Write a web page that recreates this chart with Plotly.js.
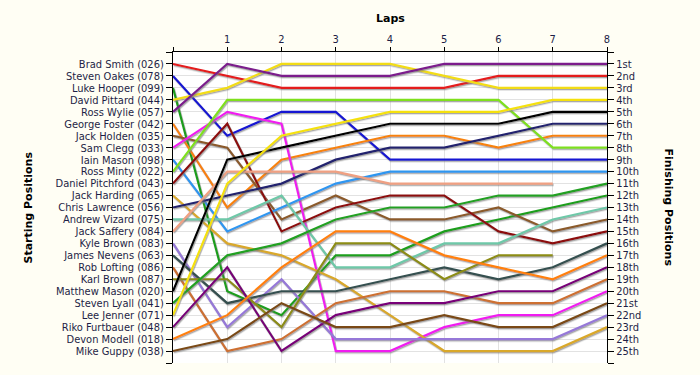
<!DOCTYPE html>
<html><head><meta charset="utf-8">
<script src="https://cdn.plot.ly/plotly-3.0.1.min.js"></script>
<style>html,body{margin:0;padding:0;background:#FFFEF4;} #chart{width:700px;height:375px;}</style>
</head><body><div id="chart"></div>
<script>
// ---- data ----
const laps = [0, 1, 2, 3, 4, 5, 6, 7, 8];
const lapLabels = ['', '1', '2', '3', '4', '5', '6', '7', '8'];
const drivers = ['Brad Smith (026)', 'Steven Oakes (078)', 'Luke Hooper (099)', 'David Pittard (044)',
  'Ross Wylie (057)', 'George Foster (042)', 'Jack Holden (035)', 'Sam Clegg (033)', 'Iain Mason (098)',
  'Ross Minty (022)', 'Daniel Pitchford (043)', 'Jack Harding (065)', 'Chris Lawrence (056)',
  'Andrew Vizard (075)', 'Jack Saffery (084)', 'Kyle Brown (083)', 'James Nevens (063)',
  'Rob Lofting (086)', 'Karl Brown (087)', 'Matthew Mason (020)', 'Steven Lyall (041)',
  'Lee Jenner (071)', 'Riko Furtbauer (048)', 'Devon Modell (018)', 'Mike Guppy (038)'];
const finishLabels = ['1st', '2nd', '3rd', '4th', '5th', '6th', '7th', '8th', '9th', '10th', '11th', '12th',
  '13th', '14th', '15th', '16th', '17th', '18th', '19th', '20th', '21st', '22nd', '23rd', '24th', '25th'];

// position of each driver after each lap (lap 0 = grid)
const bradSmith       = [1, 2, 3, 3, 3, 3, 2, 2, 2];
const stevenOakes     = [2, 7, 5, 5, 9, 9, 9, 9, 9];
const lukeHooper      = [3, 20, 22, 17, 17, 15, 14, 13, 12];
const davidPittard    = [4, 3, 1, 1, 1, 2, 3, 3, 3];
const rossWylie       = [5, 1, 2, 2, 2, 1, 1, 1, 1];
const georgeFoster    = [6, 13, 9, 8, 7, 7, 8, 7, 7];
const jackHolden      = [7, 8, 14, 12, 14, 14, 13, 15, 14];
const samClegg        = [8, 5, 6, 25, 25, 23, 22, 22, 20];
const iainMason       = [9, 15, 13, 11, 10, 10, 10, 10, 10];
const rossMinty       = [10, 4, 4, 4, 4, 4, 4, 8, 8];
const danielPitchford = [11, 6, 15, 13, 12, 12, 15, 16, 15];
const jackHarding     = [12, 16, 17, 19, 22, 25, 25, 25, 23];
const chrisLawrence   = [13, 12, 11, 9, 8, 8, 7, 6, 6];
const andrewVizard    = [14, 14, 12, 18, 18, 16, 16, 14, 13];
const jackSaffery     = [15, 10, 10, 10, 11, 11, 11, 11, null];
const kyleBrown       = [16, 23, 19, 24, 24, 24, 24, 24, 22];
const jamesNevens     = [17, 21, 20, 20, 19, 18, 19, 18, 16];
const robLofting      = [18, 25, 24, 21, 20, 20, 21, 21, 19];
const karlBrown       = [19, 19, 23, 16, 16, 19, 17, 17, null];
const matthewMason    = [20, 9, 8, 7, 6, 6, 6, 5, 5];
const stevenLyall     = [21, 17, 16, 14, 13, 13, 12, 12, 11];
const leeJenner       = [22, 11, 7, 6, 5, 5, 5, 4, 4];
const rikoFurtbauer   = [23, 18, 25, 22, 21, 21, 20, 20, 18];
const devonModell     = [24, 22, 18, 15, 15, 17, 18, 19, 17];
const mikeGuppy       = [25, 24, 21, 23, 23, 22, 23, 23, 21];

const positions = [bradSmith, stevenOakes, lukeHooper, davidPittard, rossWylie, georgeFoster, jackHolden,
  samClegg, iainMason, rossMinty, danielPitchford, jackHarding, chrisLawrence, andrewVizard, jackSaffery,
  kyleBrown, jamesNevens, robLofting, karlBrown, matthewMason, stevenLyall, leeJenner, rikoFurtbauer,
  devonModell, mikeGuppy];

const colors = ['#E41A1C', '#1414D2', '#1E9E1E', '#F2DC14', '#7B1F8C', '#F7820F', '#8B5A2B', '#F01EF0',
  '#2E96F0', '#7FE01E', '#8C1010', '#D9A82A', '#22226E', '#6EC8A8', '#F0A082', '#9678D8', '#345050',
  '#CD7030', '#8C8C14', '#000000', '#20A020', '#F5E10A', '#780078', '#FF8010', '#7A4A14'];

// ---- traces ----
const traces = positions.map((p, i) => ({
  type: 'scatter', mode: 'lines', x: laps, y: p, name: drivers[i],
  line: {color: colors[i], width: 2.2}, connectgaps: false, hoverinfo: 'skip'
}));
traces.push({type: 'scatter', mode: 'lines', x: [], y: [], yaxis: 'y2', hoverinfo: 'skip', showlegend: false});

const rowVals = Array.from({length: 27}, (_, k) => k);
const leftText = [''].concat(drivers, ['']);
const rightText = [''].concat(finishLabels, ['']);

const tickFont = {family: 'DejaVu Sans Condensed, Liberation Sans, Arial, sans-serif', size: 11, color: '#1E1E46'};
const titleFont = {family: 'DejaVu Sans, Verdana, sans-serif', size: 11, color: '#000000'};

const layout = {
  width: 700, height: 375,
  paper_bgcolor: '#FFFEF4', plot_bgcolor: '#FFFFFF',
  margin: {l: 173, r: 93, t: 52, b: 12, pad: 0},
  showlegend: false,
  xaxis: {
    side: 'top', range: [0, 8], tickmode: 'array', tickvals: laps, ticktext: lapLabels,
    ticks: 'outside', ticklen: 4, tickcolor: '#000', tickwidth: 1,
    showline: true, linecolor: '#000', linewidth: 1, mirror: false,
    showgrid: true, gridcolor: '#E2E2E2', gridwidth: 1, zeroline: false, tickfont: tickFont, fixedrange: true
  },
  yaxis: {
    range: [26, 0], tickmode: 'array', tickvals: rowVals, ticktext: leftText,
    ticks: 'outside', ticklen: 6, tickcolor: '#000', tickwidth: 1,
    showline: true, linecolor: '#000', linewidth: 1,
    showgrid: true, gridcolor: '#E2E2E2', gridwidth: 1, zeroline: false, tickfont: tickFont, fixedrange: true
  },
  yaxis2: {
    overlaying: 'y', side: 'right', anchor: 'x', range: [26, 0], tickmode: 'array', tickvals: rowVals, ticktext: rightText,
    ticks: 'outside', ticklen: 6, tickcolor: '#000', tickwidth: 1,
    showline: true, linecolor: '#000', linewidth: 1,
    showgrid: false, zeroline: false, tickfont: tickFont, fixedrange: true
  },
  annotations: [
    {text: '<b>Laps</b>', xref: 'paper', yref: 'paper', x: 0.5, y: 1.109, xanchor: 'center', yanchor: 'middle',
     showarrow: false, font: titleFont},
    {text: '<b>Starting Positions</b>', xref: 'paper', yref: 'paper', x: -0.334, y: 0.5, xanchor: 'center', yanchor: 'middle',
     textangle: -90, showarrow: false, font: titleFont},
    {text: '<b>Finishing Positions</b>', xref: 'paper', yref: 'paper', x: 1.1406, y: 0.5, xanchor: 'center', yanchor: 'middle',
     textangle: 90, showarrow: false, font: titleFont}
  ]
};

Plotly.newPlot('chart', traces, layout, {staticPlot: true, displayModeBar: false}).then(gd => {
  const ns = 'http://www.w3.org/2000/svg';
  const svg = gd.querySelector('svg.main-svg');
  let defs = svg.querySelector('defs');
  if (!defs) { defs = document.createElementNS(ns, 'defs'); svg.insertBefore(defs, svg.firstChild); }
  const f = document.createElementNS(ns, 'filter');
  f.setAttribute('id', 'lineShadow');
  f.setAttribute('filterUnits', 'userSpaceOnUse');
  f.setAttribute('x', '-300'); f.setAttribute('y', '-300');
  f.setAttribute('width', '1400'); f.setAttribute('height', '1000');
  const ds = document.createElementNS(ns, 'feDropShadow');
  ds.setAttribute('dx', '0.8'); ds.setAttribute('dy', '1.3');
  ds.setAttribute('stdDeviation', '0.35');
  ds.setAttribute('flood-color', '#7a7a7a'); ds.setAttribute('flood-opacity', '0.65');
  f.appendChild(ds);
  defs.appendChild(f);
  gd.querySelectorAll('.scatterlayer .trace path.js-line').forEach(p => p.setAttribute('filter', 'url(#lineShadow)'));
});
</script>
</body></html>
